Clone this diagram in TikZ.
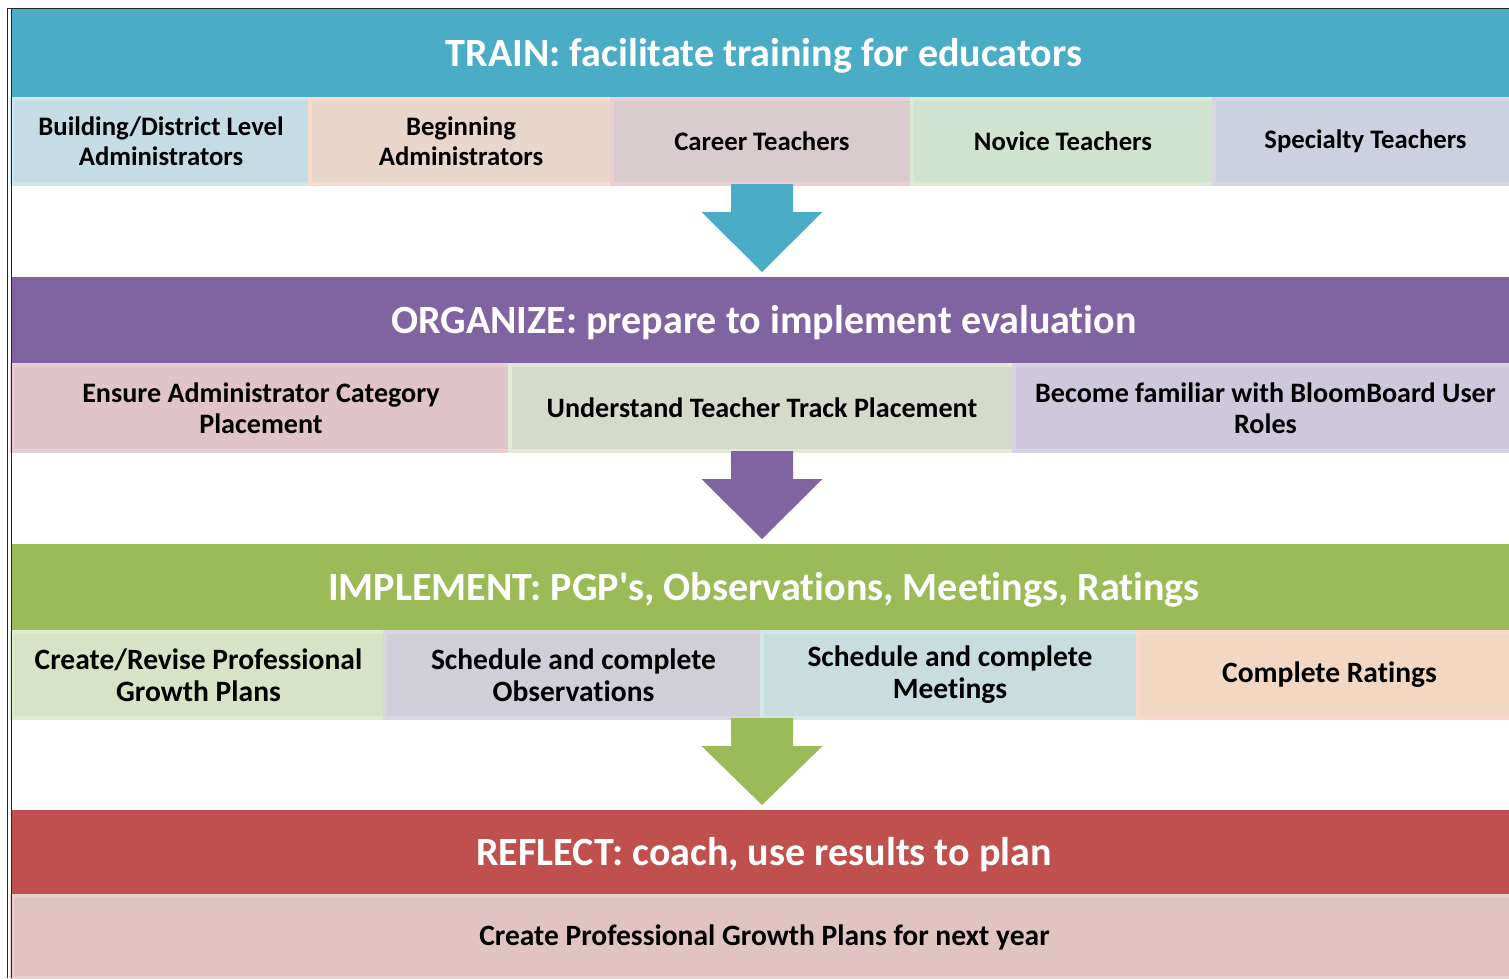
\documentclass[tikz,border=0pt]{standalone}
\usepackage{fontspec}
\setmainfont{Carlito}[Ligatures=NoCommon]
\usetikzlibrary{positioning,calc}
\definecolor{trainc}{HTML}{4BACC6}
\definecolor{orgc}{HTML}{8064A2}
\definecolor{impc}{HTML}{9BBB59}
\definecolor{refc}{HTML}{C0504D}
% box fills and rims
\definecolor{bxA}{HTML}{C4DDE5}\definecolor{rmA}{HTML}{D0E5EC}
\definecolor{bxB}{HTML}{E9D6CB}\definecolor{rmB}{HTML}{F8DACE}
\definecolor{bxC}{HTML}{D9CCCF}\definecolor{rmC}{HTML}{EBCFD2}
\definecolor{bxD}{HTML}{D0E2D0}\definecolor{rmD}{HTML}{DDEAD3}
\definecolor{bxE}{HTML}{CDD1DF}\definecolor{rmE}{HTML}{D8D5E5}
\definecolor{bxF}{HTML}{E0C4CA}\definecolor{rmF}{HTML}{E8CDD2}
\definecolor{bxG}{HTML}{D5DACB}\definecolor{rmG}{HTML}{E3EBD6}
\definecolor{bxH}{HTML}{CFC8DC}\definecolor{rmH}{HTML}{D9D2E6}
\definecolor{bxI}{HTML}{D7E3C4}\definecolor{rmI}{HTML}{E0EAD1}
\definecolor{bxJ}{HTML}{D0CFD7}\definecolor{rmJ}{HTML}{DAD5E2}
\definecolor{bxK}{HTML}{C8DEDE}\definecolor{rmK}{HTML}{D3E7EB}
\definecolor{bxL}{HTML}{F2D8C2}\definecolor{rmL}{HTML}{FAD9CC}
\definecolor{bxM}{HTML}{E1C3C2}\definecolor{rmM}{HTML}{E9CFCF}
\tikzset{
  stagehead/.style={fill=#1, text=white, anchor=north west, inner sep=0pt, outer sep=0pt,
    minimum width=15.04cm, text height=9.6pt, text depth=2.4pt,
    font=\fontsize{11.4}{13}\selectfont\bfseries},
  stagebox/.style 2 args={fill=#1, draw=#2, line width=1.2pt, anchor=north west, inner sep=0pt,
    outer sep=0pt, align=center},
  rowone/.style={font=\fontsize{7.6}{8.5}\selectfont\bfseries},
  rowtwo/.style={font=\fontsize{8.0}{8.8}\selectfont\bfseries},
  rowthree/.style={font=\fontsize{8.4}{9.1}\selectfont\bfseries},
  frameline/.style={line width=0.5pt, black!85},
}
\newcommand{\stagearrow}[3]{%
  \path (#2) coordinate (sa top) (#2 |- #3) coordinate (sa tip);
  \fill[#1] ($(sa top)+(-0.31,0)$) -- ($(sa top)+(0.31,0)$) -- ($(sa top)+(0.31,-0.28)$)
    -- ($(sa top)+(0.605,-0.28)$) -- ($(sa tip)+(0,0.05)$) -- ($(sa top)+(-0.605,-0.28)$)
    -- ($(sa top)+(-0.31,-0.28)$) -- cycle;}

\begin{document}
\begin{tikzpicture}
  \useasboundingbox (0,0) rectangle (15.09,-9.78);

  % train
  \node[stagehead=trainc, minimum height=0.90cm] (hTrain) at (0.12,-0.09) {TRAIN: facilitate training for educators};
  \node[stagebox={bxA}{rmA}, rowone, minimum width=2.98cm, minimum height=0.85cm] (r1a) at (hTrain.south west) {Building/District Level\\Administrators};
  \node[stagebox={bxB}{rmB}, rowone, minimum width=3.02cm, minimum height=0.85cm, right=0cm of r1a.north east, anchor=north west] (r1b) {Beginning\\Administrators};
  \node[stagebox={bxC}{rmC}, rowone, minimum width=3.00cm, minimum height=0.85cm, right=0cm of r1b.north east, anchor=north west] (r1c) {Career Teachers};
  \node[stagebox={bxD}{rmD}, rowone, minimum width=3.02cm, minimum height=0.85cm, right=0cm of r1c.north east, anchor=north west] (r1d) {Novice Teachers};
  \node[stagebox={bxE}{rmE}, rowone, minimum width=3.03cm, minimum height=0.85cm, right=0cm of r1d.north east, anchor=north west] (r1e) {Specialty Teachers};

  % organize
  \node[stagehead=orgc, minimum height=0.88cm] (hOrg) at (0.12,-2.77) {ORGANIZE: prepare to implement evaluation};
  \node[stagebox={bxF}{rmF}, rowtwo, minimum width=4.98cm, minimum height=0.86cm] (r2a) at (hOrg.south west) {Ensure Administrator Category\\Placement};
  \node[stagebox={bxG}{rmG}, rowtwo, minimum width=5.04cm, minimum height=0.86cm, right=0cm of r2a.north east, anchor=north west] (r2b) {Understand Teacher Track Placement};
  \node[stagebox={bxH}{rmH}, rowtwo, minimum width=5.03cm, minimum height=0.86cm, right=0cm of r2b.north east, anchor=north west] (r2c) {Become familiar with BloomBoard User\\Roles};

  % implement
  \node[stagehead=impc, minimum height=0.88cm] (hImp) at (0.12,-5.44) {IMPLEMENT: PGP\textquotesingle s, Observations, Meetings, Ratings};
  \node[stagebox={bxI}{rmI}, rowthree, minimum width=3.73cm, minimum height=0.86cm] (r3a) at (hImp.south west) {Create/Revise Professional\\Growth Plans};
  \node[stagebox={bxJ}{rmJ}, rowthree, minimum width=3.77cm, minimum height=0.86cm, right=0cm of r3a.north east, anchor=north west] (r3b) {Schedule and complete\\Observations};
  \node[stagebox={bxK}{rmK}, rowthree, minimum width=3.76cm, minimum height=0.86cm, right=0cm of r3b.north east, anchor=north west] (r3c) {Schedule and complete\\Meetings};
  \node[stagebox={bxL}{rmL}, rowthree, minimum width=3.83cm, minimum height=0.86cm, right=0cm of r3c.north east, anchor=north west] (r3d) {Complete Ratings};

  % reflect
  \node[stagehead=refc, minimum height=0.86cm] (hRef) at (0.12,-8.10) {REFLECT: coach, use results to plan};
  \node[stagebox={bxM}{rmM}, rowthree, minimum width=15.05cm, minimum height=0.82cm] (r4a) at (hRef.south west) {Create Professional Growth Plans for next year};

  \stagearrow{trainc}{r1c.south}{hOrg.north}
  \stagearrow{orgc}{r2b.south}{hImp.north}
  \stagearrow{impc}{r3b.south east}{hRef.north}

  \draw[frameline] (0.075,-9.78) -- (0.075,-0.085) -- (15.09,-0.085);
  \draw[frameline] (0.115,-9.78) -- (0.115,-0.085);
\end{tikzpicture}
\end{document}
